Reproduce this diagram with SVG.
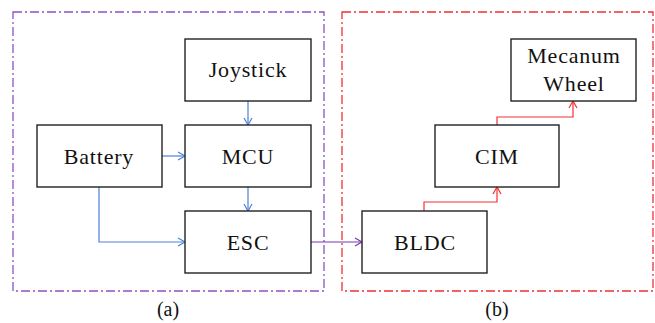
<svg xmlns="http://www.w3.org/2000/svg" width="655" height="323" viewBox="0 0 655 323">
<defs>
<style>
.frame{fill:none;stroke-width:1.3;stroke-dasharray:9 3 2 3}
.box{fill:#fff;stroke:#222;stroke-width:1.4}
.lbl{font-family:'Liberation Serif','Times New Roman','DejaVu Serif',serif;font-size:22px;fill:#111;text-anchor:middle;letter-spacing:0.8px}
.cap{font-family:'Liberation Serif','Times New Roman','DejaVu Serif',serif;font-size:20px;fill:#111;text-anchor:middle}
.blue{fill:none;stroke:#4f80d8;stroke-width:1.2}
.purple{fill:none;stroke:#7a3ab0;stroke-width:1.2}
.red{fill:none;stroke:#f03030;stroke-width:1.2}
</style>
<marker id="ab" markerWidth="10" markerHeight="10" refX="8" refY="5" orient="auto" markerUnits="userSpaceOnUse"><path d="M1,1 L8,5 L1,9" fill="none" stroke="#4f80d8" stroke-width="1.2"/></marker>
<marker id="ap" markerWidth="10" markerHeight="10" refX="8" refY="5" orient="auto" markerUnits="userSpaceOnUse"><path d="M1,1 L8,5 L1,9" fill="none" stroke="#7a3ab0" stroke-width="1.2"/></marker>
<marker id="ar" markerWidth="10" markerHeight="10" refX="8" refY="5" orient="auto" markerUnits="userSpaceOnUse"><path d="M1,1 L8,5 L1,9" fill="none" stroke="#f03030" stroke-width="1.2"/></marker>
</defs>
<rect width="655" height="323" fill="#fff"/>
<g id="frame-a"><rect class="frame" x="13" y="12" width="311" height="279" stroke="#9050c0"/><text class="cap" x="168" y="316">(a)</text></g>
<g id="frame-b"><rect class="frame" x="342" y="12" width="311" height="279" stroke="#f03030"/><text class="cap" x="497" y="316">(b)</text></g>
<g id="connectors">
<path class="blue" d="M248,101 V125" marker-end="url(#ab)"/>
<path class="blue" d="M248,187 V211" marker-end="url(#ab)"/>
<path class="blue" d="M162,156 H185" marker-end="url(#ab)"/>
<path class="blue" d="M99,187 V242 H185" marker-end="url(#ab)"/>
<path class="purple" d="M311,242 H362" marker-end="url(#ap)"/>
<path class="red" d="M424,211 V202 H497 V187" marker-end="url(#ar)"/>
<path class="red" d="M497,125 V117 H573 V101" marker-end="url(#ar)"/>
</g>
<g id="joystick"><rect class="box" x="185" y="39" width="126" height="62"/><text class="lbl" x="248" y="77">Joystick</text></g>
<g id="mcu"><rect class="box" x="185" y="125" width="126" height="62"/><text class="lbl" x="248" y="164">MCU</text></g>
<g id="battery"><rect class="box" x="37" y="125" width="125" height="62"/><text class="lbl" x="99" y="164">Battery</text></g>
<g id="esc"><rect class="box" x="185" y="211" width="126" height="62"/><text class="lbl" x="248" y="250">ESC</text></g>
<g id="bldc"><rect class="box" x="362" y="211" width="125" height="62"/><text class="lbl" x="425" y="250">BLDC</text></g>
<g id="cim"><rect class="box" x="435" y="125" width="124" height="62"/><text class="lbl" x="497" y="164">CIM</text></g>
<g id="mecanum"><rect class="box" x="511" y="39" width="125" height="62"/><text class="lbl" x="574" y="63">Mecanum</text><text class="lbl" x="574" y="91">Wheel</text></g>
</svg>
